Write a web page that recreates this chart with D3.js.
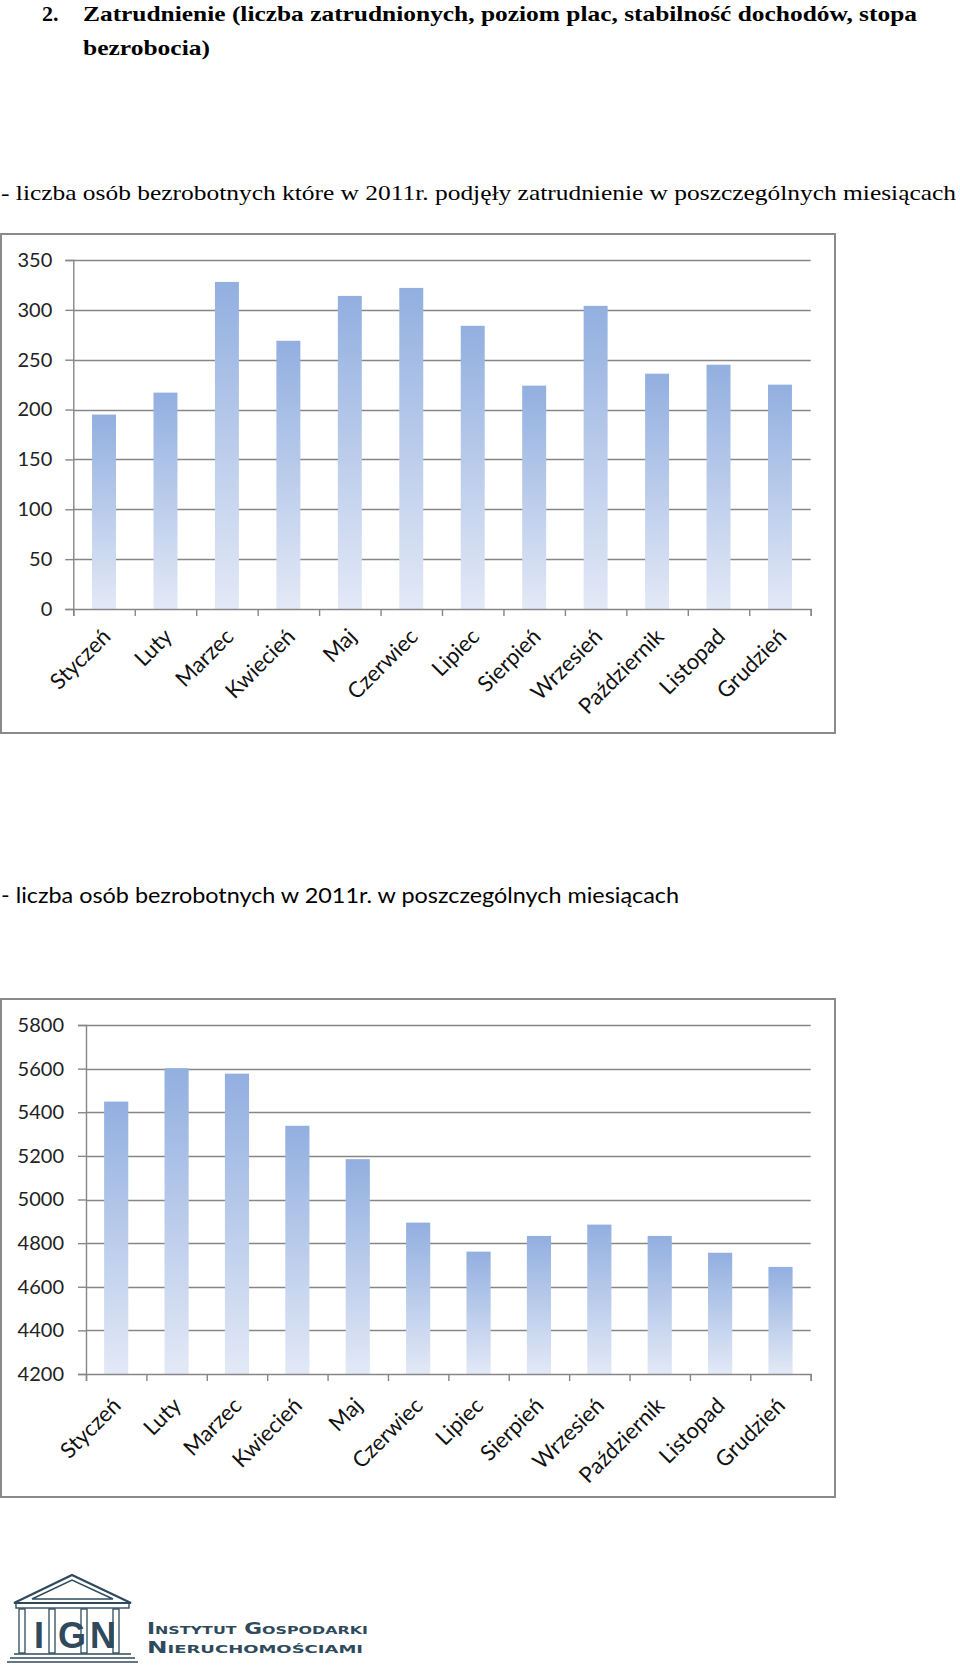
<!DOCTYPE html>
<html><head><meta charset="utf-8">
<script src="https://cdn.jsdelivr.net/npm/d3@7/dist/d3.min.js"></script>
<style>html,body{margin:0;padding:0;background:#fff;}svg{display:block;}</style>
</head><body>
<script>
const categories = ["Styczeń","Luty","Marzec","Kwiecień","Maj","Czerwiec","Lipiec","Sierpień","Wrzesień","Październik","Listopad","Grudzień"];
const hiredValues = [195,217,328,269,314,322,284,224,304,236,245,225];
const unemployedValues = [5449,5602,5577,5338,5185,4894,4761,4833,4885,4833,4756,4691];
const hiredTicks = [0,50,100,150,200,250,300,350];
const unemployedTicks = [4200,4400,4600,4800,5000,5200,5400,5600,5800];
const titleNumber = "2.";
const titleLine1 = "Zatrudnienie (liczba zatrudnionych, poziom plac, stabilność dochodów, stopa";
const titleLine2 = "bezrobocia)";
const subtitle1 = "- liczba osób bezrobotnych które w 2011r. podjęły zatrudnienie w poszczególnych miesiącach";
const subtitle2 = "- liczba osób bezrobotnych w 2011r. w poszczególnych miesiącach";

const W = 960, H = 1672;
const svg = d3.select("body").append("svg").attr("width", W).attr("height", H);
svg.append("rect").attr("width", W).attr("height", H).attr("fill", "#fff");

const defs = svg.append("defs");
const grad = defs.append("linearGradient").attr("id", "barGrad").attr("x1", 0).attr("y1", 0).attr("x2", 0).attr("y2", 1);
grad.append("stop").attr("offset", "0%").attr("stop-color", "#92afe0");
grad.append("stop").attr("offset", "100%").attr("stop-color", "#e3e9f6");

// Title
const serif = "'Liberation Serif','Times New Roman','DejaVu Serif',serif";
svg.append("text").attr("x", 42).attr("y", 21).attr("font-family", serif).attr("font-weight", "bold")
  .attr("font-size", 22).text(titleNumber);
svg.append("text").attr("x", 83).attr("y", 21).attr("font-family", serif).attr("font-weight", "bold")
  .attr("font-size", 22).attr("textLength", 834).attr("lengthAdjust", "spacingAndGlyphs").text(titleLine1);
svg.append("text").attr("x", 83).attr("y", 55).attr("font-family", serif).attr("font-weight", "bold")
  .attr("font-size", 22).attr("textLength", 127).attr("lengthAdjust", "spacingAndGlyphs").text(titleLine2);
svg.append("text").attr("x", 1).attr("y", 200).attr("font-family", serif)
  .attr("font-size", 21).attr("textLength", 955).attr("lengthAdjust", "spacingAndGlyphs").text(subtitle1);
svg.append("text").attr("x", 1).attr("y", 903).attr("font-family", "Lato, 'Open Sans', sans-serif")
  .attr("font-size", 21).attr("textLength", 678).attr("lengthAdjust", "spacingAndGlyphs").text(subtitle2);

function drawChart(cfg) {
  const g = svg.append("g");
  g.append("rect").attr("x", cfg.box[0]).attr("y", cfg.box[1]).attr("width", cfg.box[2]).attr("height", cfg.box[3])
    .attr("fill", "#fff").attr("stroke", "#8a8a8a").attr("stroke-width", 2);
  const y = d3.scaleLinear().domain(cfg.domain).range([cfg.y0, cfg.y1]);
  const x = d3.scaleBand().domain(categories).range([cfg.x0, cfg.x1]).paddingInner(cfg.pad).paddingOuter(cfg.pad / 2);
  const xt = d3.scaleLinear().domain([0, categories.length]).range([cfg.x0, cfg.x1]);

  // gridlines
  g.append("g").selectAll("line").data(cfg.ticks.slice(1)).join("line")
    .attr("x1", cfg.x0).attr("x2", cfg.x1).attr("y1", d => Math.round(y(d)) + 0.5).attr("y2", d => Math.round(y(d)) + 0.5)
    .attr("stroke", "#868686").attr("stroke-width", 1.4);

  // y axis
  const ya = g.append("g").attr("transform", `translate(${cfg.x0},0)`)
    .call(d3.axisLeft(y).tickValues(cfg.ticks).tickSize(8).tickPadding(cfg.tickPad).tickFormat(d3.format("d")));
  ya.select(".domain").attr("stroke", "#868686").attr("stroke-width", 1.4);
  ya.selectAll(".tick line").attr("stroke", "#868686").attr("stroke-width", 1.4);
  ya.selectAll(".tick text").attr("font-family", "Lato, 'Open Sans', sans-serif").attr("font-size", 20).attr("fill", "#222");

  // bars
  g.append("g").selectAll("rect").data(cfg.values).join("rect")
    .attr("x", (d, i) => x(categories[i])).attr("width", x.bandwidth())
    .attr("y", d => y(d)).attr("height", d => y(cfg.domain[0]) - y(d))
    .attr("fill", "url(#barGrad)");

  // x axis
  const xa = g.append("g").attr("transform", `translate(0,${cfg.y0})`)
    .call(d3.axisBottom(xt).tickValues(d3.range(categories.length + 1)).tickSize(7).tickFormat(""));
  xa.select(".domain").attr("stroke", "#868686").attr("stroke-width", 1.4);
  xa.selectAll(".tick line").attr("stroke", "#868686").attr("stroke-width", 1.4);

  // category labels
  g.append("g").selectAll("text").data(categories).join("text")
    .attr("transform", d => `translate(${x(d) + x.bandwidth() / 2 + cfg.lblDx},${cfg.y0 + cfg.lblDy}) rotate(-45)`)
    .attr("text-anchor", "end").attr("dominant-baseline", "central")
    .attr("font-family", "Lato, 'Open Sans', sans-serif").attr("font-size", 22).attr("fill", "#111")
    .text(d => d);
}

drawChart({ box: [1, 234, 834, 499], x0: 73.3, x1: 810.7, y0: 609, y1: 260, domain: [0, 350],
  ticks: hiredTicks, values: hiredValues, pad: 0.61, tickPad: 13, lblDx: 2, lblDy: 23 });
drawChart({ box: [1, 999, 834, 498], x0: 86, x1: 810.7, y0: 1374, y1: 1025, domain: [4200, 5800],
  ticks: unemployedTicks, values: unemployedValues, pad: 0.6, tickPad: 14, lblDx: 0, lblDy: 27 });

// Logo
const logoColor = "#2f4a5c";
const lg = svg.append("g").attr("stroke", logoColor).attr("fill", "none");
lg.append("path").attr("d", "M14,1603 L72,1575 L131,1603 Z").attr("stroke-width", 2.2);
lg.append("path").attr("d", "M32,1599 L72,1580 L113,1599 Z").attr("stroke-width", 1.4);
lg.append("rect").attr("x", 16).attr("y", 1603).attr("width", 113).attr("height", 5).attr("stroke-width", 1.4);
[22, 52, 84, 116].forEach(cx => {
  lg.append("rect").attr("x", cx - 3).attr("y", 1609).attr("width", 6).attr("height", 44).attr("stroke-width", 1.3);
});
lg.append("path").attr("d", "M14,1654 L131,1654 M10,1658 L135,1658 M7,1662 L138,1662").attr("stroke-width", 1.6);
const letters = [["I", 39], ["G", 72], ["N", 103]];
svg.append("g").selectAll("text").data(letters).join("text")
  .attr("x", d => d[1]).attr("y", 1648).attr("text-anchor", "middle")
  .attr("font-family", "'Liberation Sans Narrow','Liberation Sans',sans-serif").attr("font-weight", "bold")
  .attr("font-size", 36).attr("fill", logoColor).text(d => d[0]);
svg.append("text").attr("x", 147).attr("y", 1634).attr("font-family", "'DejaVu Sans',sans-serif").attr("font-weight", "bold")
  .attr("font-size", 15).attr("font-variant", "small-caps").attr("fill", logoColor)
  .attr("textLength", 221).attr("lengthAdjust", "spacingAndGlyphs").text("Instytut Gospodarki");
svg.append("text").attr("x", 147).attr("y", 1653).attr("font-family", "'DejaVu Sans',sans-serif").attr("font-weight", "bold")
  .attr("font-size", 15).attr("font-variant", "small-caps").attr("fill", logoColor)
  .attr("textLength", 216).attr("lengthAdjust", "spacingAndGlyphs").text("Nieruchomościami");
</script>
</body></html>
